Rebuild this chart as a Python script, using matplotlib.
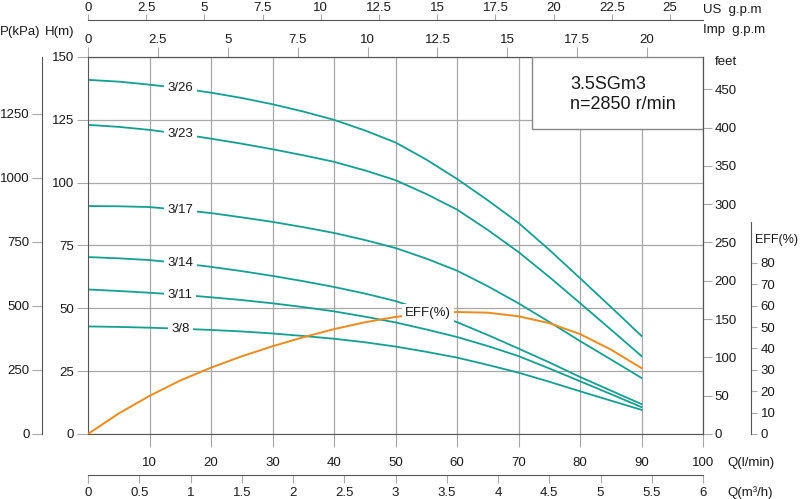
import numpy as np
import matplotlib
matplotlib.use('Agg')
import matplotlib.pyplot as plt
from matplotlib.patches import Rectangle

plt.rcParams['font.family'] = ['Liberation Sans', 'DejaVu Sans']
plt.rcParams['font.size'] = 9.5

# flow points (l/min) and head (m) for each stage count
q = [0, 5, 10, 15, 20, 25, 30, 35, 40, 45, 50, 55, 60, 65, 70, 75, 80, 85, 90]
h_3_26 = [140.9, 140.2, 139.0, 137.6, 135.8, 133.7, 131.2, 128.3, 125.0, 120.8,
          116.0, 109.2, 101.5, 93.0, 84.0, 73.3, 62.0, 50.6, 39.0]
h_3_23 = [123.0, 122.2, 121.0, 119.4, 117.5, 115.5, 113.3, 110.9, 108.3, 104.9,
          101.0, 95.5, 89.3, 81.2, 72.4, 62.5, 52.1, 41.6, 31.0]
h_3_17 = [90.7, 90.6, 90.3, 89.2, 87.9, 86.2, 84.4, 82.3, 80.0, 77.2,
          74.0, 69.8, 65.0, 58.8, 52.0, 44.6, 37.0, 29.7, 22.3]
h_3_14 = [70.4, 69.9, 69.2, 68.0, 66.5, 64.8, 62.9, 60.8, 58.5, 55.9,
          52.9, 48.9, 44.5, 39.4, 34.0, 28.5, 22.7, 17.3, 11.9]
h_3_11 = [57.5, 56.9, 56.2, 55.4, 54.4, 53.3, 52.0, 50.5, 48.8, 46.7,
          44.4, 41.6, 38.6, 35.0, 31.0, 26.1, 21.0, 15.9, 10.7]
h_3_8 = [42.8, 42.6, 42.3, 41.9, 41.4, 40.8, 40.0, 39.0, 37.9, 36.5,
         34.8, 32.7, 30.4, 27.5, 24.4, 20.8, 17.0, 13.3, 9.6]

curves = [('3/26', h_3_26), ('3/23', h_3_23), ('3/17', h_3_17),
          ('3/14', h_3_14), ('3/11', h_3_11), ('3/8', h_3_8)]

# efficiency (%) at the same flow points
eff = [0, 9.6, 17.8, 25.0, 31.0, 36.3, 41.0, 45.2, 49.0, 52.2,
       54.7, 56.3, 57.0, 56.7, 55.0, 51.8, 46.7, 39.5, 30.8]

TEAL = '#13a091'
ORANGE = '#f08a1c'
SPINE = '#555555'
GRID = '#a8a8a8'
TXT = '#1a1a1a'

W, H = 800, 499
fig = plt.figure(figsize=(W / 100, H / 100), dpi=100)
ax = fig.add_axes([88 / W, (H - 434) / H, 615 / W, 377 / H])

ax.set_xlim(0, 100)
ax.set_ylim(0, 150)
ax.set_axisbelow(True)
ax.grid(True, color=GRID, lw=0.9)
for s in ax.spines.values():
    s.set_color(SPINE)
ax.set_xticks(np.arange(10, 101, 10))
ax.set_yticks(np.arange(0, 151, 25))
ax.tick_params(axis='x', direction='out', length=9.4, color=GRID, pad=7, labelcolor=TXT)
ax.tick_params(axis='y', direction='out', length=8, color=GRID, pad=2, labelcolor=TXT)

for name, hv in curves:
    ax.plot(q, hv, color=TEAL, lw=1.3, zorder=2)
    ax.text(15, np.interp(15, q, hv), name, ha='center', va='center', color=TXT,
            zorder=4, bbox=dict(fc='white', ec='none', pad=2.5))

# info box
ax.add_patch(Rectangle((0.722, 0.809), 0.278, 0.191, transform=ax.transAxes,
                       fc='white', ec='#888888', lw=1, zorder=3))
ax.text(0.784, 0.928, '3.5SGm3', transform=ax.transAxes, fontsize=13,
        ha='left', va='center', color=TXT, zorder=4)
ax.text(0.784, 0.875, 'n=2850 r/min', transform=ax.transAxes, fontsize=13,
        ha='left', va='center', color=TXT, zorder=4)

# pressure axis on the far left
axp = ax.twinx()
axp.set_ylim(0, 150 * 9.81)
axp.yaxis.set_ticks_position('left')
axp.spines['left'].set_position(('axes', (42 - 88) / 615))
for k in ['right', 'top', 'bottom']:
    axp.spines[k].set_visible(False)
axp.spines['left'].set_color(SPINE)
axp.set_yticks(np.arange(0, 1251, 250))
axp.tick_params(axis='y', direction='out', length=7, color=GRID, pad=2, labelcolor=TXT)

# feet axis on the right
axf = ax.twinx()
axf.set_ylim(0, 150 * 3.281)
for k in ['left', 'top', 'bottom']:
    axf.spines[k].set_visible(False)
axf.spines['right'].set_color(SPINE)
axf.set_yticks(np.arange(0, 451, 50))
axf.tick_params(axis='y', direction='out', length=6.5, color=GRID, pad=2, labelcolor=TXT)

# efficiency axis
axe = ax.twinx()
axe.set_ylim(0, 377 / 2.14)
for k in ['left', 'top', 'bottom']:
    axe.spines[k].set_visible(False)
axe.spines['right'].set_position(('axes', (751 - 88) / 615))
axe.spines['right'].set_bounds(0, 99)
axe.spines['right'].set_color(SPINE)
axe.set_yticks(np.arange(0, 81, 10))
axe.tick_params(axis='y', direction='out', length=4, color=GRID, pad=3, labelcolor=TXT)
axe.plot(q, eff, color=ORANGE, lw=1.4, zorder=2)
axe.text(55.3, np.interp(55.3, q, eff), 'EFF(%)', ha='center', va='center',
         color=TXT, zorder=4, bbox=dict(fc='white', ec='none', pad=2.5))


def fmt(v):
    return ('%g' % v)


# top flow axes
imp = ax.secondary_xaxis('top', functions=(lambda x: x * 0.219969, lambda x: x / 0.219969))
imp.set_xticks(np.arange(0, 20.1, 2.5))
imp.set_xticklabels([fmt(v) for v in np.arange(0, 20.1, 2.5)])
imp.tick_params(direction='out', length=7, color=GRID, pad=1, labelcolor=TXT)
imp.spines['top'].set_color(SPINE)

us = ax.secondary_xaxis((434 - 20) / 377, functions=(lambda x: x * 0.264172, lambda x: x / 0.264172))
us.set_xticks(np.arange(0, 25.1, 2.5))
us.set_xticklabels([fmt(v) for v in np.arange(0, 25.1, 2.5)])
us.tick_params(direction='out', length=4, color=GRID, pad=0.5, labelcolor=TXT)
us.spines['top'].set_color(SPINE)

m3h = ax.secondary_xaxis((434 - 475) / 377, functions=(lambda x: x * 0.06, lambda x: x / 0.06))
m3h.set_xticks(np.arange(0, 6.1, 0.5))
m3h.set_xticklabels([fmt(v) for v in np.arange(0, 6.1, 0.5)])
m3h.tick_params(direction='out', length=6, color=GRID, pad=3, labelcolor=TXT)
m3h.spines['bottom'].set_color(SPINE)

# axis names
labels = [('P(kPa)', 0, 32, 9.5), ('H(m)', 45, 32, 9.5), ('US  g.p.m', 703, 10, 9.5),
          ('Imp  g.p.m', 703, 30, 9.5), ('feet', 715, 62, 9.5), ('EFF(%)', 755, 240, 9),
          ('Q(l/min)', 727, 463, 9.5), ('Q(m³/h)', 727, 493, 9.5)]
for txt, px, py, fs in labels:
    fig.text(px / W, 1 - py / H, txt, ha='left', va='center', color=TXT, fontsize=fs)

fig.savefig('out.png', dpi=100)
